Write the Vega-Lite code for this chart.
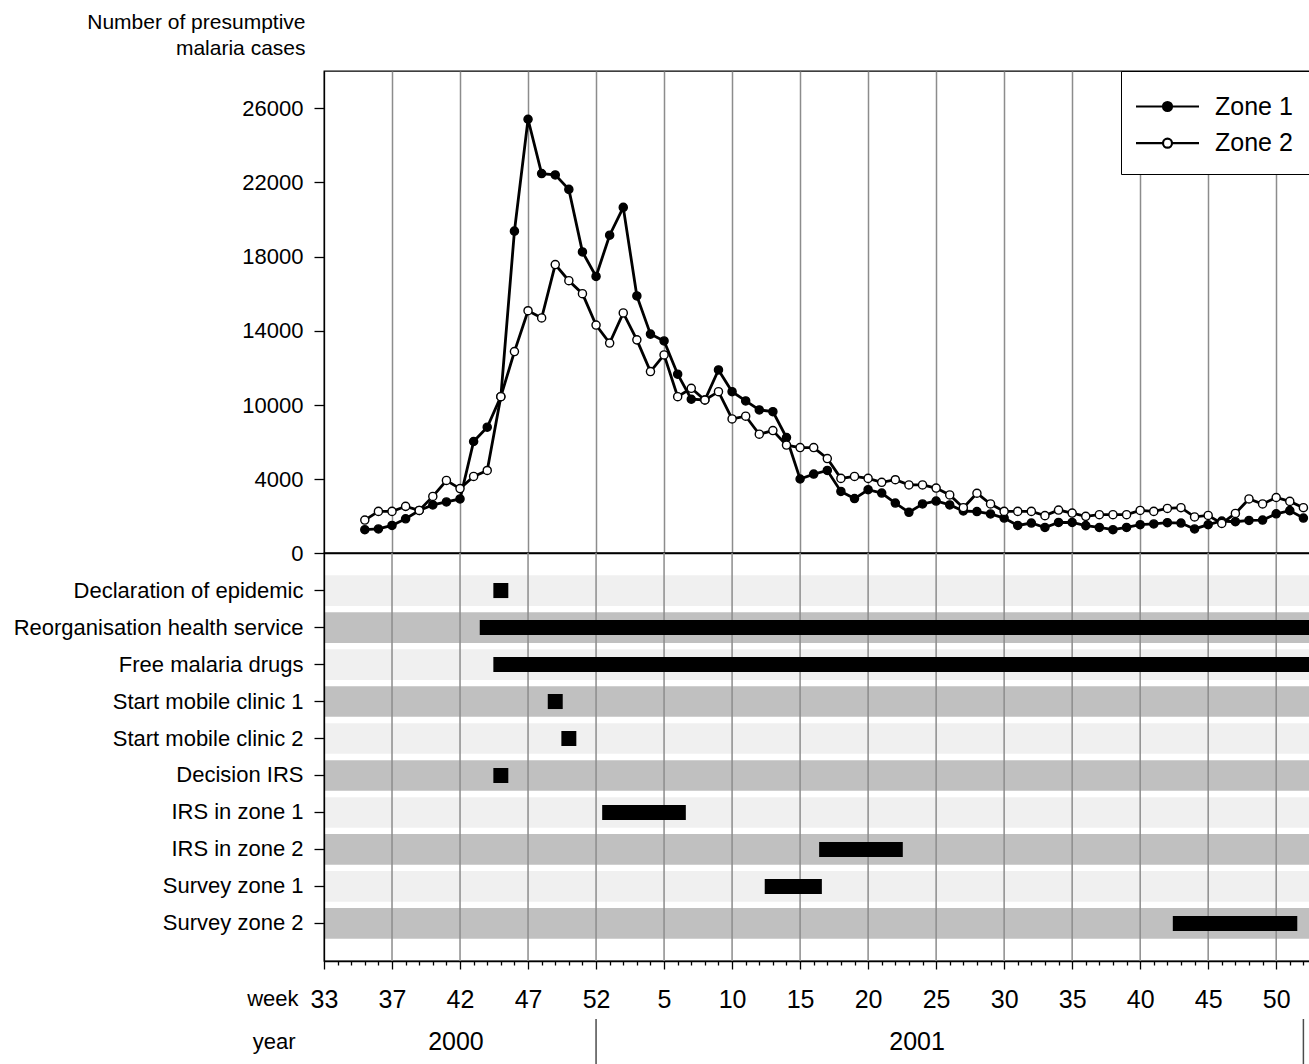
{
  "$schema": "https://vega.github.io/schema/vega-lite/v6.json",
  "padding": {"left": 12, "top": 10, "right": 0, "bottom": 0},
  "spacing": 0,
  "bounds": "flush",
  "config": {
    "font": "Liberation Sans",
    "view": {"stroke": "black", "strokeWidth": 1.3},
    "axis": {"domainColor": "black", "tickColor": "black", "labelColor": "black", "titleColor": "black", "domainWidth": 1.3, "tickWidth": 1.3, "titleFontWeight": "normal"}
  },
  "resolve": {"scale": {"x": "independent", "y": "independent", "color": "independent", "fill": "independent"}},
  "datasets": {
    "cases": [
      {"t":35,"zone":"Zone 1","cases":1260},{"t":36,"zone":"Zone 1","cases":1300},{"t":37,"zone":"Zone 1","cases":1490},{"t":38,"zone":"Zone 1","cases":1850},{"t":39,"zone":"Zone 1","cases":2300},{"t":40,"zone":"Zone 1","cases":2600},{"t":41,"zone":"Zone 1","cases":2760},{"t":42,"zone":"Zone 1","cases":2920},{"t":43,"zone":"Zone 1","cases":7040},{"t":44,"zone":"Zone 1","cases":8200},
      {"t":45,"zone":"Zone 1","cases":10450},{"t":46,"zone":"Zone 1","cases":19370},{"t":47,"zone":"Zone 1","cases":25400},{"t":48,"zone":"Zone 1","cases":22470},{"t":49,"zone":"Zone 1","cases":22400},{"t":50,"zone":"Zone 1","cases":21620},{"t":51,"zone":"Zone 1","cases":18250},{"t":52,"zone":"Zone 1","cases":16930},{"t":53,"zone":"Zone 1","cases":19150},{"t":54,"zone":"Zone 1","cases":20650},
      {"t":55,"zone":"Zone 1","cases":15880},{"t":56,"zone":"Zone 1","cases":13820},{"t":57,"zone":"Zone 1","cases":13450},{"t":58,"zone":"Zone 1","cases":11660},{"t":59,"zone":"Zone 1","cases":10310},{"t":60,"zone":"Zone 1","cases":10270},{"t":61,"zone":"Zone 1","cases":11890},{"t":62,"zone":"Zone 1","cases":10720},{"t":63,"zone":"Zone 1","cases":10220},{"t":64,"zone":"Zone 1","cases":9600},
      {"t":65,"zone":"Zone 1","cases":9460},{"t":66,"zone":"Zone 1","cases":7360},{"t":67,"zone":"Zone 1","cases":4000},{"t":68,"zone":"Zone 1","cases":4400},{"t":69,"zone":"Zone 1","cases":4690},{"t":70,"zone":"Zone 1","cases":3330},{"t":71,"zone":"Zone 1","cases":2940},{"t":72,"zone":"Zone 1","cases":3420},{"t":73,"zone":"Zone 1","cases":3240},{"t":74,"zone":"Zone 1","cases":2700},
      {"t":75,"zone":"Zone 1","cases":2200},{"t":76,"zone":"Zone 1","cases":2650},{"t":77,"zone":"Zone 1","cases":2810},{"t":78,"zone":"Zone 1","cases":2600},{"t":79,"zone":"Zone 1","cases":2270},{"t":80,"zone":"Zone 1","cases":2240},{"t":81,"zone":"Zone 1","cases":2110},{"t":82,"zone":"Zone 1","cases":1890},{"t":83,"zone":"Zone 1","cases":1490},{"t":84,"zone":"Zone 1","cases":1620},
      {"t":85,"zone":"Zone 1","cases":1380},{"t":86,"zone":"Zone 1","cases":1650},{"t":87,"zone":"Zone 1","cases":1650},{"t":88,"zone":"Zone 1","cases":1480},{"t":89,"zone":"Zone 1","cases":1380},{"t":90,"zone":"Zone 1","cases":1260},{"t":91,"zone":"Zone 1","cases":1380},{"t":92,"zone":"Zone 1","cases":1530},{"t":93,"zone":"Zone 1","cases":1570},{"t":94,"zone":"Zone 1","cases":1640},
      {"t":95,"zone":"Zone 1","cases":1620},{"t":96,"zone":"Zone 1","cases":1300},{"t":97,"zone":"Zone 1","cases":1530},{"t":98,"zone":"Zone 1","cases":1730},{"t":99,"zone":"Zone 1","cases":1690},{"t":100,"zone":"Zone 1","cases":1760},{"t":101,"zone":"Zone 1","cases":1780},{"t":102,"zone":"Zone 1","cases":2120},{"t":103,"zone":"Zone 1","cases":2290},{"t":104,"zone":"Zone 1","cases":1890},
      {"t":35,"zone":"Zone 2","cases":1780},{"t":36,"zone":"Zone 2","cases":2250},{"t":37,"zone":"Zone 2","cases":2250},{"t":38,"zone":"Zone 2","cases":2520},{"t":39,"zone":"Zone 2","cases":2300},{"t":40,"zone":"Zone 2","cases":3060},{"t":41,"zone":"Zone 2","cases":3920},{"t":42,"zone":"Zone 2","cases":3480},{"t":43,"zone":"Zone 2","cases":4210},{"t":44,"zone":"Zone 2","cases":4690},
      {"t":45,"zone":"Zone 2","cases":10450},{"t":46,"zone":"Zone 2","cases":12880},{"t":47,"zone":"Zone 2","cases":15080},{"t":48,"zone":"Zone 2","cases":14690},{"t":49,"zone":"Zone 2","cases":17570},{"t":50,"zone":"Zone 2","cases":16700},{"t":51,"zone":"Zone 2","cases":16000},{"t":52,"zone":"Zone 2","cases":14310},{"t":53,"zone":"Zone 2","cases":13340},{"t":54,"zone":"Zone 2","cases":14960},
      {"t":55,"zone":"Zone 2","cases":13510},{"t":56,"zone":"Zone 2","cases":11800},{"t":57,"zone":"Zone 2","cases":12700},{"t":58,"zone":"Zone 2","cases":10450},{"t":59,"zone":"Zone 2","cases":10900},{"t":60,"zone":"Zone 2","cases":10270},{"t":61,"zone":"Zone 2","cases":10720},{"t":62,"zone":"Zone 2","cases":8870},{"t":63,"zone":"Zone 2","cases":9090},{"t":64,"zone":"Zone 2","cases":7630},
      {"t":65,"zone":"Zone 2","cases":7930},{"t":66,"zone":"Zone 2","cases":6750},{"t":67,"zone":"Zone 2","cases":6550},{"t":68,"zone":"Zone 2","cases":6550},{"t":69,"zone":"Zone 2","cases":5660},{"t":70,"zone":"Zone 2","cases":4050},{"t":71,"zone":"Zone 2","cases":4210},{"t":72,"zone":"Zone 2","cases":4050},{"t":73,"zone":"Zone 2","cases":3820},{"t":74,"zone":"Zone 2","cases":3960},
      {"t":75,"zone":"Zone 2","cases":3680},{"t":76,"zone":"Zone 2","cases":3680},{"t":77,"zone":"Zone 2","cases":3510},{"t":78,"zone":"Zone 2","cases":3140},{"t":79,"zone":"Zone 2","cases":2450},{"t":80,"zone":"Zone 2","cases":3230},{"t":81,"zone":"Zone 2","cases":2650},{"t":82,"zone":"Zone 2","cases":2250},{"t":83,"zone":"Zone 2","cases":2250},{"t":84,"zone":"Zone 2","cases":2250},
      {"t":85,"zone":"Zone 2","cases":2020},{"t":86,"zone":"Zone 2","cases":2320},{"t":87,"zone":"Zone 2","cases":2160},{"t":88,"zone":"Zone 2","cases":1980},{"t":89,"zone":"Zone 2","cases":2070},{"t":90,"zone":"Zone 2","cases":2070},{"t":91,"zone":"Zone 2","cases":2070},{"t":92,"zone":"Zone 2","cases":2300},{"t":93,"zone":"Zone 2","cases":2250},{"t":94,"zone":"Zone 2","cases":2410},
      {"t":95,"zone":"Zone 2","cases":2450},{"t":96,"zone":"Zone 2","cases":1950},{"t":97,"zone":"Zone 2","cases":2030},{"t":98,"zone":"Zone 2","cases":1600},{"t":99,"zone":"Zone 2","cases":2140},{"t":100,"zone":"Zone 2","cases":2920},{"t":101,"zone":"Zone 2","cases":2650},{"t":102,"zone":"Zone 2","cases":3000},{"t":103,"zone":"Zone 2","cases":2790},{"t":104,"zone":"Zone 2","cases":2450}
    ],
    "activities": [
      {"activity":"Declaration of epidemic","start":44.45,"end":45.55},
      {"activity":"Reorganisation health service","start":43.45,"end":105},
      {"activity":"Free malaria drugs","start":44.45,"end":105},
      {"activity":"Start mobile clinic 1","start":48.45,"end":49.55},
      {"activity":"Start mobile clinic 2","start":49.45,"end":50.55},
      {"activity":"Decision IRS","start":44.45,"end":45.55},
      {"activity":"IRS in zone 1","start":52.45,"end":58.6},
      {"activity":"IRS in zone 2","start":68.4,"end":74.55},
      {"activity":"Survey zone 1","start":64.4,"end":68.6},
      {"activity":"Survey zone 2","start":94.4,"end":103.55}
    ],
    "gridweeks": [{"t":37},{"t":42},{"t":47},{"t":52},{"t":57},{"t":62},{"t":67},{"t":72},{"t":77},{"t":82},{"t":87},{"t":92},{"t":97},{"t":102}],
    "years": [{"label":"2000","t":41.7},{"label":"2001","t":75.6}],
    "yearbreaks": [{"t":52},{"t":104}]
  },
  "vconcat": [
    {
      "width": 993,
      "height": 482,
      "data": {"name": "cases"},
      "layer": [
        {
          "mark": {"type": "line", "color": "black", "strokeWidth": 2.8},
          "encoding": {
            "x": {"field": "t", "type": "quantitative", "scale": {"domain": [32, 105], "nice": false, "zero": false},
                  "axis": {"values": [37,42,47,52,57,62,67,72,77,82,87,92,97,102], "grid": true, "gridColor": "#8c8c8c", "gridWidth": 1.5, "ticks": false, "labels": false, "title": null}},
            "y": {"field": "cases", "type": "quantitative", "scale": {"domain": [0, 4000, 10000, 28000], "range": [482, 408, 334, 0], "nice": false, "zero": false},
                  "axis": {"values": [0,2000,4000,7000,10000,12000,14000,16000,18000,20000,22000,24000,26000,28000],
                           "labelExpr": "indexof([0,4000,10000,14000,18000,22000,26000], datum.value) >= 0 ? format(datum.value, 'd') : ''",
                           "grid": false, "tickSize": 10, "labelPadding": 11, "labelFontSize": 22,
                           "title": ["Number of presumptive", "malaria cases"], "titleAngle": 0, "titleAlign": "right", "titleBaseline": "alphabetic",
                           "titleX": -19, "titleY": -42.5, "titleFontSize": 21, "titleLineHeight": 25.5}},
            "detail": {"field": "zone", "type": "nominal"}
          }
        },
        {
          "mark": {"type": "point", "shape": "circle", "filled": true, "stroke": "black", "strokeWidth": 1.4, "size": 66, "opacity": 1},
          "encoding": {
            "x": {"field": "t", "type": "quantitative"},
            "y": {"field": "cases", "type": "quantitative"},
            "fill": {"field": "zone", "type": "nominal", "scale": {"domain": ["Zone 1", "Zone 2"], "range": ["black", "white"]},
                     "legend": {"title": null, "orient": "none", "legendX": 797, "legendY": 0,
                                "symbolType": "M-1.853,0L-0.265,0M0.265,0L1.853,0M-0.265,0A0.265,0.265,0,1,0,0.265,0A0.265,0.265,0,1,0,-0.265,0Z",
                                "symbolSize": 1156, "symbolStrokeColor": "black", "symbolStrokeWidth": 2.2, "symbolOpacity": 1, "symbolOffset": 11,
                                "labelFontSize": 25, "labelColor": "black", "labelOffset": 29, "padding": 17, "rowPadding": 4.7,
                                "strokeColor": "black", "fillColor": "white"}}
          }
        }
      ]
    },
    {
      "width": 993,
      "height": 408,
      "data": {"name": "activities"},
      "layer": [
        {
          "mark": {"type": "rect"},
          "encoding": {
            "y": {"field": "activity", "type": "nominal",
                  "scale": {"type": "band", "domain": ["Declaration of epidemic","Reorganisation health service","Free malaria drugs","Start mobile clinic 1","Start mobile clinic 2","Decision IRS","IRS in zone 1","IRS in zone 2","Survey zone 1","Survey zone 2"], "paddingInner": 0.17, "paddingOuter": 0.6},
                  "axis": {"title": null, "labelFontSize": 22, "tickSize": 10, "labelPadding": 11, "labelLimit": 400}},
            "color": {"field": "activity", "type": "nominal",
                      "scale": {"domain": ["Declaration of epidemic","Reorganisation health service","Free malaria drugs","Start mobile clinic 1","Start mobile clinic 2","Decision IRS","IRS in zone 1","IRS in zone 2","Survey zone 1","Survey zone 2"],
                                "range": ["#f0f0f0","#c0c0c0","#f0f0f0","#c0c0c0","#f0f0f0","#c0c0c0","#f0f0f0","#c0c0c0","#f0f0f0","#c0c0c0"]},
                      "legend": null}
          }
        },
        {
          "data": {"name": "gridweeks"},
          "mark": {"type": "rule", "color": "#8c8c8c", "strokeWidth": 1.5},
          "encoding": {
            "x": {"field": "t", "type": "quantitative", "scale": {"domain": [32, 105], "nice": false, "zero": false},
                  "axis": {"values": [32,33,34,35,36,37,38,39,40,41,42,43,44,45,46,47,48,49,50,51,52,53,54,55,56,57,58,59,60,61,62,63,64,65,66,67,68,69,70,71,72,73,74,75,76,77,78,79,80,81,82,83,84,85,86,87,88,89,90,91,92,93,94,95,96,97,98,99,100,101,102,103,104],
                           "tickSize": {"condition": {"test": "(datum.value - 32) % 5 === 0", "value": 8}, "value": 4},
                           "labelExpr": "(datum.value - 32) % 5 === 0 ? (datum.value === 32 ? '33' : (datum.value > 52 ? '' + (datum.value - 52) : '' + datum.value)) : ''",
                           "labelFontSize": 25, "labelPadding": 18, "labelFlush": false, "labelOverlap": false, "grid": false,
                           "title": "week", "titleAngle": 0, "titleAlign": "right", "titleBaseline": "alphabetic", "titleX": -26, "titleY": 44, "titleFontSize": 22}}
          }
        },
        {
          "mark": {"type": "bar", "color": "black", "height": {"band": 0.49}},
          "encoding": {
            "x": {"field": "start", "type": "quantitative",
                  "axis": {"values": [32,33,34,35,36,37,38,39,40,41,42,43,44,45,46,47,48,49,50,51,52,53,54,55,56,57,58,59,60,61,62,63,64,65,66,67,68,69,70,71,72,73,74,75,76,77,78,79,80,81,82,83,84,85,86,87,88,89,90,91,92,93,94,95,96,97,98,99,100,101,102,103,104],
                           "tickSize": {"condition": {"test": "(datum.value - 32) % 5 === 0", "value": 8}, "value": 4},
                           "labelExpr": "(datum.value - 32) % 5 === 0 ? (datum.value === 32 ? '33' : (datum.value > 52 ? '' + (datum.value - 52) : '' + datum.value)) : ''",
                           "labelFontSize": 25, "labelPadding": 18, "labelFlush": false, "labelOverlap": false, "grid": false,
                           "title": "week", "titleAngle": 0, "titleAlign": "right", "titleBaseline": "alphabetic", "titleX": -26, "titleY": 44, "titleFontSize": 22}},
            "x2": {"field": "end"},
            "y": {"field": "activity", "type": "nominal",
                  "axis": {"title": null, "labelFontSize": 22, "tickSize": 10, "labelPadding": 11, "labelLimit": 400}}
          }
        }
      ]
    },
    {
      "width": 993,
      "height": 105,
      "view": {"stroke": null},
      "layer": [
        {
          "data": {"name": "years"},
          "mark": {"type": "text", "fontSize": 25, "color": "black"},
          "encoding": {
            "x": {"field": "t", "type": "quantitative", "scale": {"domain": [32, 105], "nice": false, "zero": false}, "axis": null},
            "y": {"datum": "year", "type": "nominal", "scale": {"type": "band", "paddingInner": 0, "paddingOuter": 0.594, "align": 1},
                  "axis": {"title": null, "ticks": false, "domain": false, "labelFontSize": 22, "labelPadding": 29}},
            "text": {"field": "label", "type": "nominal"}
          }
        },
        {
          "data": {"name": "yearbreaks"},
          "mark": {"type": "tick", "color": "black", "thickness": 1.5, "size": 46},
          "encoding": {
            "x": {"field": "t", "type": "quantitative", "axis": null},
            "y": {"datum": "year", "type": "nominal"}
          }
        }
      ]
    }
  ]
}
